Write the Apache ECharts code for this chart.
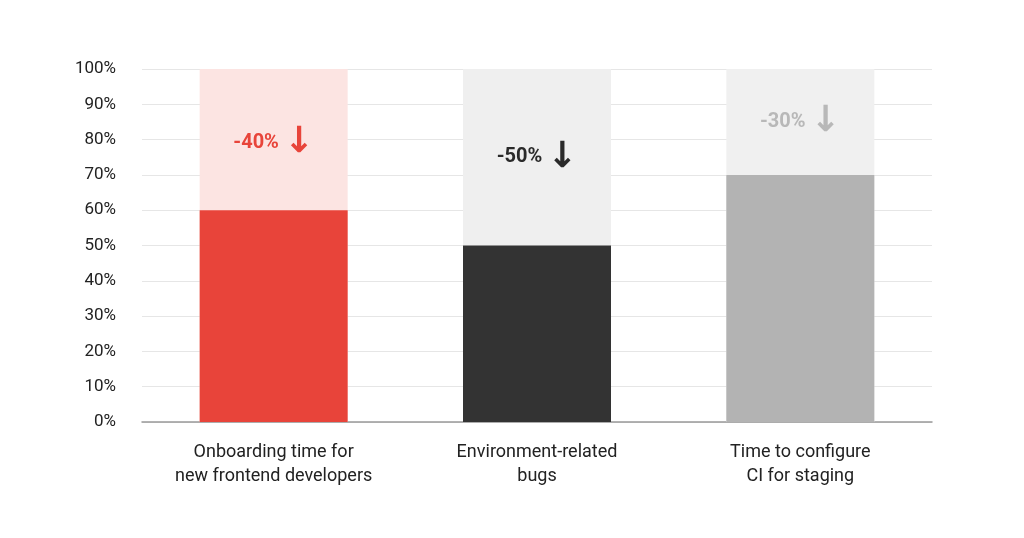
<!DOCTYPE html>
<html><head><meta charset="utf-8">
<script src="https://cdn.jsdelivr.net/npm/echarts@6/dist/echarts.min.js"></script>
<style>html,body{margin:0;background:#fff}#c{width:1024px;height:538px}</style>
</head><body><div id="c"></div>
<script>
const categories = ['Onboarding time for\nnew frontend developers', 'Environment-related\nbugs', 'Time to configure\nCI for staging'];
const values = [60, 50, 70];
const totals = [100, 100, 100];
const changes = ['-40%', '-50%', '-30%'];
const labelLevels = [79, 75, 85];
const mainColors = ['#E8443A', '#333333', '#B3B3B3'];
const bgColors = ['#FCE4E2', '#EFEFEF', '#F0F0F0'];
const textColors = ['#E8443A', '#2A2A2A', '#B8B8B8'];

const chart = echarts.init(document.getElementById('c'));
chart.setOption({
  animation: false,
  grid: {left: 142, right: 92, top: 69, bottom: 116},
  xAxis: {
    type: 'category', data: categories,
    axisLine: {lineStyle: {color: '#999', width: 1.5}}, axisTick: {show: false},
    axisLabel: {color: '#222', fontSize: 18, fontFamily: 'Roboto', lineHeight: 24, margin: 18}
  },
  yAxis: {
    type: 'value', min: 0, max: 100, interval: 10,
    axisLabel: {formatter: '{value}%', color: '#222', fontSize: 17, fontFamily: 'Roboto', margin: 26},
    splitLine: {lineStyle: {color: '#E6E6E6'}}
  },
  series: [
    {type: 'bar', barWidth: 148, silent: true, z: 1,
     data: totals.map((v, i) => ({value: v, itemStyle: {color: bgColors[i]}}))},
    {type: 'bar', barWidth: 148, barGap: '-100%', z: 2,
     data: values.map((v, i) => ({value: v, itemStyle: {color: mainColors[i]}}))},
    {type: 'scatter', symbolSize: 0, z: 3, itemStyle: {opacity: 1},
     data: labelLevels.map((v, i) => ({value: v, label: {show: true, position: 'inside',
       formatter: changes[i] + ' {a|↓}', color: textColors[i], fontSize: 20, fontWeight: 'bold', fontFamily: 'Roboto',
       rich: {a: {fontSize: 36, color: textColors[i], fontFamily: 'DejaVu Sans', fontWeight: 'bold'}}}}))}
  ]
});
</script></body></html>
